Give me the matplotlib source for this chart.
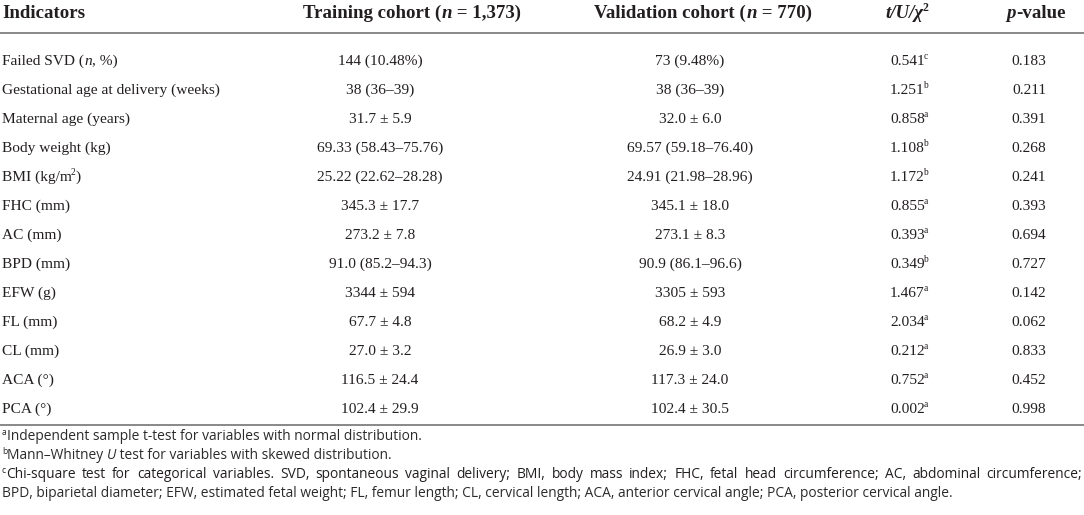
import matplotlib
matplotlib.use("Agg")
import matplotlib.pyplot as plt

SERIF = "Liberation Serif"
SANS = "Open Sans"
INK = "#231f20"

# markup: _italic_  ^superscript^
headers = ["Indicators", "Training cohort (_n_ = 1,373)", "Validation cohort (_n_ = 770)",
           "_t/U/χ_^2^", "_p_-value"]
indicators = ["Failed SVD (_n_, %)", "Gestational age at delivery (weeks)", "Maternal age (years)",
              "Body weight (kg)", "BMI (kg/m^2^)", "FHC (mm)", "AC (mm)", "BPD (mm)", "EFW (g)",
              "FL (mm)", "CL (mm)", "ACA (°)", "PCA (°)"]
training = ["144 (10.48%)", "38 (36–39)", "31.7 ± 5.9", "69.33 (58.43–75.76)", "25.22 (22.62–28.28)",
            "345.3 ± 17.7", "273.2 ± 7.8", "91.0 (85.2–94.3)", "3344 ± 594", "67.7 ± 4.8",
            "27.0 ± 3.2", "116.5 ± 24.4", "102.4 ± 29.9"]
validation = ["73 (9.48%)", "38 (36–39)", "32.0 ± 6.0", "69.57 (59.18–76.40)", "24.91 (21.98–28.96)",
              "345.1 ± 18.0", "273.1 ± 8.3", "90.9 (86.1–96.6)", "3305 ± 593", "68.2 ± 4.9",
              "26.9 ± 3.0", "117.3 ± 24.0", "102.4 ± 30.5"]
stat = ["0.541", "1.251", "0.858", "1.108", "1.172", "0.855", "0.393", "0.349", "1.467",
        "2.034", "0.212", "0.752", "0.002"]
stat_test = ["c", "b", "a", "b", "b", "a", "a", "b", "a", "a", "a", "a", "a"]
p_values = ["0.183", "0.211", "0.391", "0.268", "0.241", "0.393", "0.694", "0.727", "0.142",
            "0.062", "0.833", "0.452", "0.998"]
footnotes = [
    "^a^Independent sample t-test for variables with normal distribution.",
    "^b^Mann–Whitney _U_ test for variables with skewed distribution.",
    "^c^Chi-square test for categorical variables. SVD, spontaneous vaginal delivery; BMI, body mass index; "
    "FHC, fetal head circumference; AC, abdominal circumference;",
    "BPD, biparietal diameter; EFW, estimated fetal weight; FL, femur length; CL, cervical length; "
    "ACA, anterior cervical angle; PCA, posterior cervical angle.",
]
justified = [False, False, True, False]

fig = plt.figure(figsize=(10.84, 5.15), dpi=100)
ax = fig.add_axes([0, 0, 1, 1])
ax.set_xlim(0, 1084)
ax.set_ylim(515, 0)
ax.axis("off")
renderer = fig.canvas.get_renderer()


def parse(s):
    segs, buf, ital, sup = [], "", False, False
    for ch in s:
        if ch in "_^":
            if buf:
                segs.append((buf, ital, sup))
            buf = ""
            if ch == "_":
                ital = not ital
            else:
                sup = not sup
        else:
            buf += ch
    if buf:
        segs.append((buf, ital, sup))
    return segs


def width(s, **kw):
    t1 = ax.text(0, 0, s + "|", **kw)
    t2 = ax.text(0, 0, "|", **kw)
    w = t1.get_window_extent(renderer).width - t2.get_window_extent(renderer).width
    t1.remove()
    t2.remove()
    return w


def rich(x, y, s, family, size, weight="normal", ha="left", color=INK, draw=True):
    arts, cur = [], x
    for seg, ital, sup in parse(s):
        fs = size * 0.62 if sup else size
        dy = -size * 0.5 if sup else 0
        kw = dict(fontsize=fs, family=family, style="italic" if ital else "normal",
                  weight=weight, color=color, va="baseline", ha="left")
        if sup and cur > x:
            cur -= 1.2
        if draw:
            arts.append(ax.text(cur, y + dy, seg, **kw))
        cur += width(seg, **kw)
    shift = {"left": 0, "center": (cur - x) / 2, "right": cur - x}[ha]
    for a in arts:
        px, py = a.get_position()
        a.set_position((px - shift, py))
    return cur - x


def rich_justified(x, y, s, family, size, right):
    words = s.split(" ")
    widths = [rich(0, 0, w, family, size, draw=False) for w in words]
    gap = (right - x - sum(widths)) / (len(words) - 1)
    cur = x
    for w, wd in zip(words, widths):
        rich(cur, y, w, family, size)
        cur += wd + gap


# header
head_x = [2, 412, 703, 907, 1036]
head_ha = ["left", "center", "center", "center", "center"]
for hx, ha, h in zip(head_x, head_ha, headers):
    rich(hx, 18, h, SERIF, 13.6, weight="bold", ha=ha)

ax.plot([0, 1084], [33, 33], color="#7f7f7f", lw=1.3)

row_y0, row_dy = 65, 29
for i in range(len(indicators)):
    y = row_y0 + i * row_dy
    rich(2, y, indicators[i], SERIF, 11.1)
    rich(380, y, training[i], SERIF, 11.1, ha="center")
    rich(690, y, validation[i], SERIF, 11.1, ha="center")
    rich(909, y, stat[i] + "^" + stat_test[i] + "^", SERIF, 11.1, ha="center")
    rich(1029, y, p_values[i], SERIF, 11.1, ha="center")

ax.plot([0, 1084], [425, 425], color="#7f7f7f", lw=1.3)

for j, note in enumerate(footnotes):
    y = 440 + j * 19
    if justified[j]:
        rich_justified(2, y, note, SANS, 9.95, 1082)
    else:
        rich(2, y, note, SANS, 9.95, color="#2b2b2b")

fig.savefig("out.png", dpi=100)
